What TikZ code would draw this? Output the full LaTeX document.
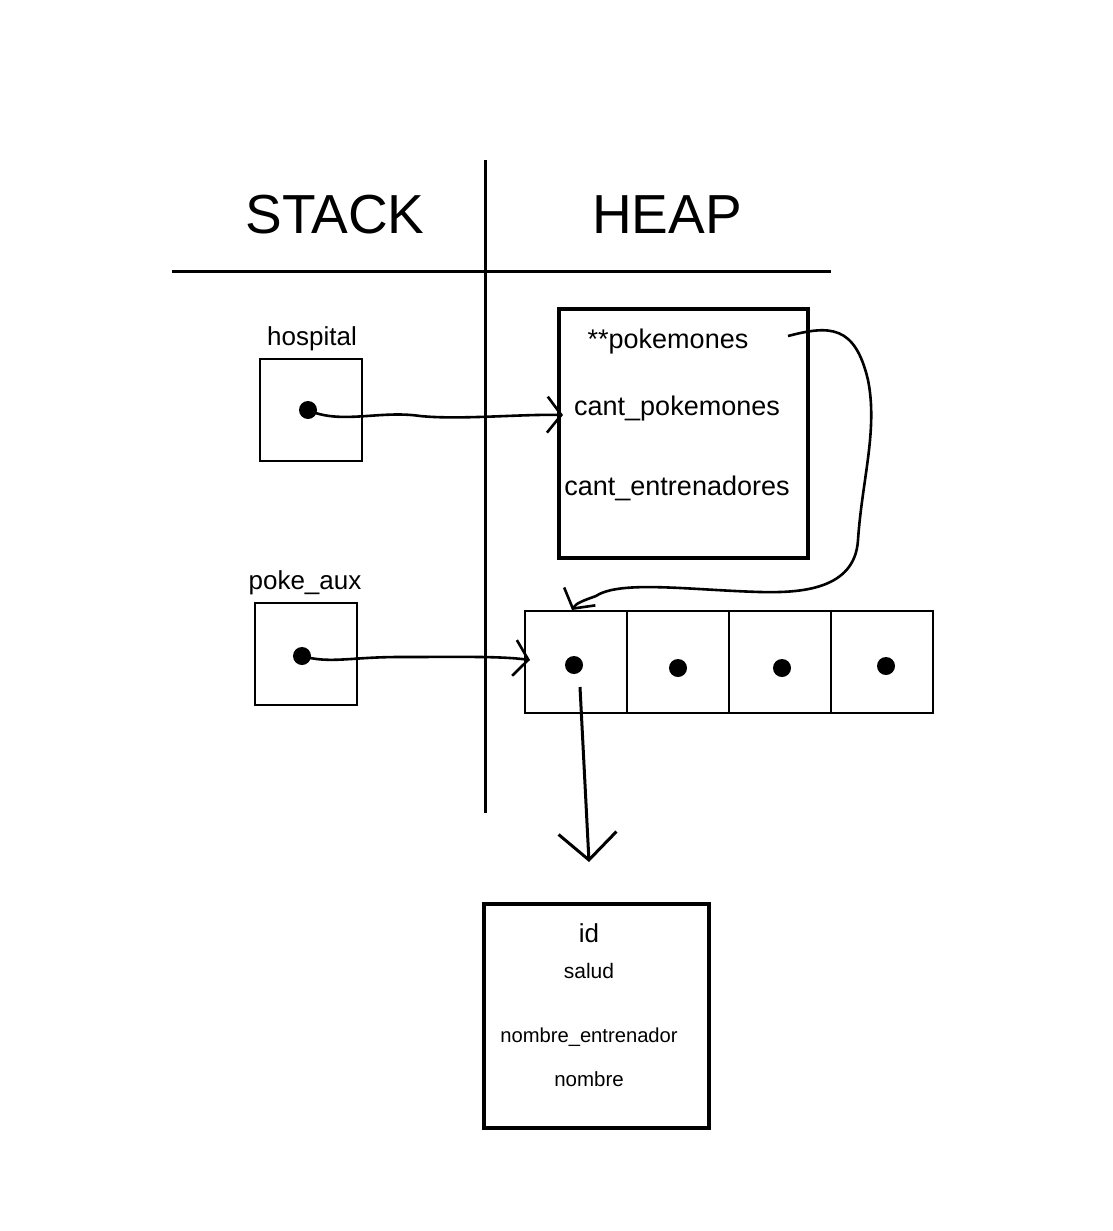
\documentclass[tikz,border=0pt]{standalone}
\usepackage{fontspec}
\setmainfont{Liberation Sans}
\usetikzlibrary{arrows.meta,positioning,calc}

\tikzset{
  caja/.style={draw, line width=1.4pt, minimum width=102pt, minimum height=102pt, inner sep=0pt},
  gruesa/.style={draw, line width=3.2pt, inner sep=0pt},
  punto/.style={circle, fill, inner sep=0pt, minimum size=18pt},
  flecha/.style={line width=2.6pt, -{Straight Barb[length=14pt,width=36pt,line width=2.6pt]}},
  texto/.style={anchor=base, inner sep=0pt},
}

\begin{document}
\begin{tikzpicture}[x=1pt, y=-1pt]
  \useasboundingbox (0,0) rectangle (1112,1231);

  % Division stack / heap
  \draw[line width=3pt] (485,160) -- (485,813);
  \draw[line width=3pt] (172,271) -- (831,271);
  \node[texto, font=\fontsize{55}{60}\selectfont] (stack) at (335,233) {STACK};
  \node[texto, font=\fontsize{55}{60}\selectfont] (heap) at (667,233) {HEAP};

  % Variables en el stack
  \node[caja] (hosp) at (311,410) {};
  \node[texto, font=\fontsize{26}{30}\selectfont] (hospL) at (312,345) {hospital};
  \node[punto] (dh) at (308,410) {};
  \node[caja] (aux) at (306,654) {};
  \node[texto, font=\fontsize{26}{30}\selectfont] (auxL) at (305,589) {poke\_aux};
  \node[punto] (da) at (302,656) {};

  % Estructura hospital
  \node[gruesa, minimum width=249pt, minimum height=249pt] (est) at (683.5,433.5) {};
  \node[texto, font=\fontsize{27}{30}\selectfont] (f1) at (668,348) {**pokemones};
  \node[texto, font=\fontsize{27}{30}\selectfont] (f2) at (677,415) {cant\_pokemones};
  \node[texto, font=\fontsize{27}{30}\selectfont] (f3) at (677,495) {cant\_entrenadores};

  % Vector de punteros
  \foreach \i/\dy in {0/3, 1/6, 2/6, 3/4} {
    \node[caja] (c\i) at (576+102*\i,662) {};
    \node[punto] (d\i) at ($(c\i)+(-2+\i*2,\dy)$) {};
  }

  % Estructura pokemon
  \node[gruesa, minimum width=225pt, minimum height=224pt] (pok) at (596.5,1016) {};
  \node[texto, font=\fontsize{26}{30}\selectfont] (p1) at (589,942) {id};
  \node[texto, font=\fontsize{21}{24}\selectfont] (p2) at (589,978) {salud};
  \node[texto, font=\fontsize{20.2}{24}\selectfont] (p3) at (589,1042) {nombre\_entrenador};
  \node[texto, font=\fontsize{20.5}{24}\selectfont] (p4) at (589,1086) {nombre};

  % Puntos de llegada
  \coordinate (estIn) at (563,415);
  \coordinate (pkOut) at (788,336);
  \coordinate (celIn) at (572,610);
  \coordinate (auxIn) at (530,660);
  \coordinate (bajo) at (580,687);
  \coordinate (pokIn) at (589,862);

  % Flechas
  \draw[flecha] (dh.center) .. controls (340,425) and (380,410) .. (420,416)
    .. controls (460,420) and (520,414) .. (estIn);
  \draw[flecha] (pkOut) .. controls (830,325) and (855,325) .. (868,380)
    .. controls (878,430) and (862,480) .. (858,540)
    .. controls (855,590) and (800,593) .. (760,592)
    .. controls (690,590) and (620,580) .. (596,596)
    .. controls (585,600) and (576,603) .. (celIn);
  \draw[flecha] (da.center) .. controls (330,664) and (350,657) .. (400,657)
    .. controls (460,657) and (500,656) .. (auxIn);
  \draw[line width=3pt, -{Straight Barb[length=27pt,width=58pt,line width=3pt]}] (bajo) -- (pokIn);
\end{tikzpicture}
\end{document}
